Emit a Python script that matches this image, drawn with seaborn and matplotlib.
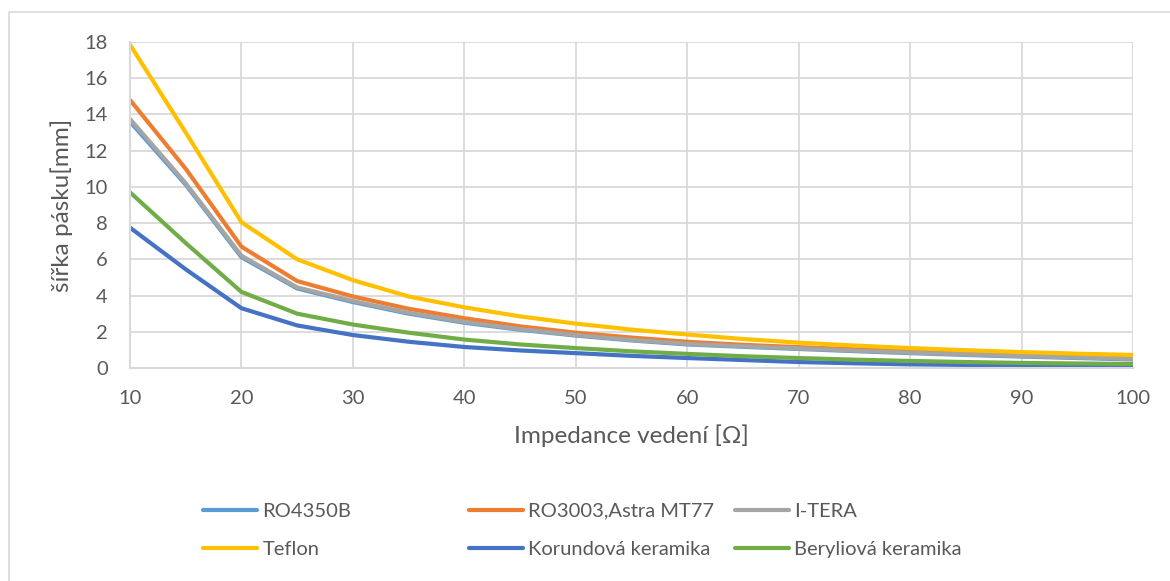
import matplotlib
matplotlib.use("Agg")
import matplotlib.pyplot as plt
import numpy as np
import pandas as pd
import seaborn as sns
from matplotlib.lines import Line2D
from matplotlib.patches import Rectangle

# ---- data ----
impedance = [10, 15, 20, 25, 30, 35, 40, 45, 50, 55, 60, 65, 70, 75, 80, 85, 90, 95, 100]

ro4350b = [13.60, 10.12, 6.12, 4.39, 3.64, 3.00, 2.50, 2.11, 1.79, 1.52, 1.30, 1.17, 1.05, 0.93, 0.82, 0.72, 0.63, 0.55, 0.47]
ro3003 = [14.80, 11.00, 6.70, 4.80, 3.95, 3.27, 2.75, 2.30, 1.95, 1.68, 1.45, 1.28, 1.15, 1.03, 0.93, 0.85, 0.77, 0.71, 0.66]
itera = [13.75, 10.20, 6.20, 4.45, 3.70, 3.05, 2.55, 2.15, 1.82, 1.55, 1.33, 1.20, 1.08, 0.96, 0.85, 0.75, 0.66, 0.58, 0.50]
teflon = [17.85, 13.00, 8.05, 6.00, 4.85, 3.95, 3.35, 2.85, 2.45, 2.12, 1.85, 1.60, 1.40, 1.24, 1.10, 0.98, 0.88, 0.79, 0.72]
korund = [7.75, 5.45, 3.30, 2.35, 1.82, 1.45, 1.16, 0.97, 0.82, 0.67, 0.55, 0.44, 0.33, 0.26, 0.20, 0.17, 0.15, 0.12, 0.10]
beryl = [9.70, 6.90, 4.20, 3.00, 2.40, 1.95, 1.57, 1.30, 1.10, 0.92, 0.78, 0.65, 0.55, 0.46, 0.39, 0.33, 0.28, 0.25, 0.22]

series_names = ["RO4350B", "RO3003,Astra MT77", "I-TERA", "Teflon",
                "Korundová keramika", "Beryliová keramika"]
series_values = [ro4350b, ro3003, itera, teflon, korund, beryl]
series_colors = ["#5B9BD5", "#ED7D31", "#A5A5A5", "#FFC000", "#4472C4", "#70AD47"]

x_ticks = list(range(10, 101, 10))
y_ticks = list(range(0, 19, 2))

rows = []
for name, vals in zip(series_names, series_values):
    for z, w in zip(impedance, vals):
        rows.append({"Z": z, "w": w, "material": name})
df = pd.DataFrame(rows)

# ---- style ----
sns.set_theme(style="white")
plt.rcParams["font.family"] = ["Lato", "DejaVu Sans"]
txt = "#595959"
grid_c = "#D9D9D9"

fig = plt.figure(figsize=(11.7, 5.81), dpi=100)
ax = fig.add_axes([130 / 1170, 1 - 368 / 581, (1133 - 130) / 1170, (368 - 42) / 581])

sns.lineplot(data=df, x="Z", y="w", hue="material", hue_order=series_names,
             palette=dict(zip(series_names, series_colors)), linewidth=3,
             legend=False, ax=ax, sort=False)
for ln in ax.get_lines():
    ln.set_solid_joinstyle("round")
    ln.set_solid_capstyle("round")

ax.set_xlim(10, 100)
ax.set_ylim(0, 18)
ax.set_xticks(x_ticks)
ax.set_yticks(y_ticks)
ax.grid(True, color=grid_c, lw=1.3)
ax.set_axisbelow(True)
for s in ["top", "right"]:
    ax.spines[s].set_visible(False)
for s in ["left", "bottom"]:
    ax.spines[s].set_color(grid_c)
    ax.spines[s].set_linewidth(1.5)
ax.tick_params(length=0, labelsize=14.5, labelcolor=txt, pad=16)
ax.set_xlabel("Impedance vedení [Ω]", fontsize=17.5, color=txt, labelpad=12)
ax.set_ylabel("šířka pásku[mm]", fontsize=17.5, color=txt, labelpad=8)

# chart border (partly outside the image)
fig.patches.append(Rectangle((9 / 1170, -0.1), 2, 1.1 - 12 / 581,
                             transform=fig.transFigure, fill=False,
                             edgecolor=grid_c, lw=1.2))

# legend: three columns
cols = [(203, [0, 3]), (469, [1, 4]), (735, [2, 5])]
for xpx, idx in cols:
    handles = [Line2D([], [], color=series_colors[i], lw=3, solid_capstyle="round") for i in idx]
    labels = [series_names[i] for i in idx]
    fig.legend(handles, labels, loc="center left",
               bbox_to_anchor=(xpx / 1170, 1 - 530.5 / 581),
               frameon=False, fontsize=14.5, handlelength=2.7,
               handletextpad=0.25, labelspacing=1.07, borderpad=0,
               borderaxespad=0, labelcolor=txt)

fig.savefig("out.png", dpi=100)
